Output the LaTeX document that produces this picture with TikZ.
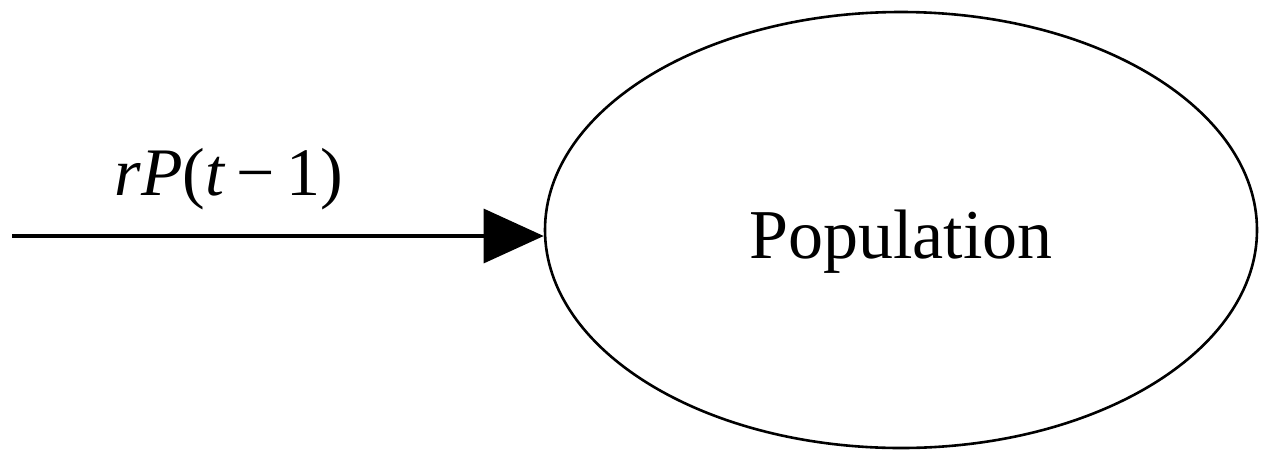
\documentclass[tikz,border=0pt]{standalone}
\usepackage{fontspec}
\setmainfont{Liberation Serif}
\usetikzlibrary{arrows.meta,shapes.geometric}
\begin{document}
\begin{tikzpicture}[x=1pt,y=-1pt,
  stock/.style={ellipse,draw,line width=2.6pt,minimum width=712pt,minimum height=436pt,inner sep=0pt},
  flow/.style={line width=3.2pt,-{Triangle[length=60pt,width=54pt]}},
  bigtext/.style={font=\fontsize{70}{80}\selectfont,inner sep=0pt,anchor=base},
  flowtext/.style={font=\fontsize{68}{76}\selectfont,inner sep=0pt,anchor=base}]
  \useasboundingbox (0,0) rectangle (1261,459);
  % stock
  \node[stock] (pop) at (901,230) {};
  \node[bigtext] (poplabel) at (901,258) {Population};
  % inflow
  \coordinate (src) at (12,236);
  \draw[flow] (src) -- (src -| pop.west);
  \node[flowtext] (rate) at (229,195) {\textit{rP}(\textit{t}\,−\,1)};
\end{tikzpicture}
\end{document}
